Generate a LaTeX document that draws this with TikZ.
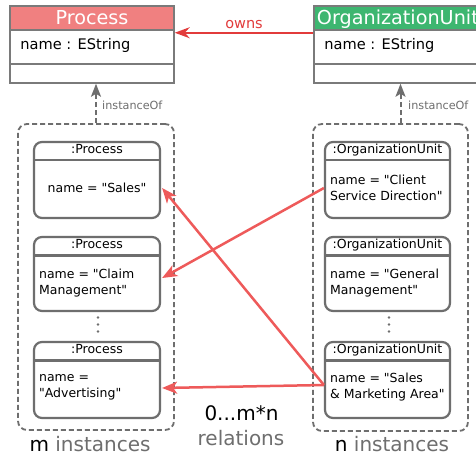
\documentclass[tikz,border=0pt]{standalone}
\usepackage{fontspec}
\setmainfont{DejaVu Sans}[Ligatures=TeXOff]
\usetikzlibrary{arrows.meta,calc}
\definecolor{boxgray}{HTML}{7A7A7A}
\definecolor{instgray}{HTML}{6E6E6E}
\definecolor{txtgray}{HTML}{6E6E6E}
\definecolor{procred}{HTML}{F08080}
\definecolor{ougreen}{HTML}{3DB670}
\definecolor{ownsred}{HTML}{E23B3B}
\definecolor{relred}{HTML}{EE5A5A}
\tikzset{
  classbox/.style={draw=boxgray, line width=1.5pt, minimum height=77pt, inner sep=0pt},
  classhead/.style={draw=boxgray, line width=1.5pt, minimum height=24pt, inner sep=0pt},
  headtxt/.style={text=white, font=\fontsize{19.2}{22}\selectfont, inner sep=0pt, anchor=base},
  attrtxt/.style={font=\fontsize{14.6}{17}\selectfont, inner sep=0pt, anchor=base west},
  container/.style={draw=instgray, line width=1.8pt, dash pattern=on 5pt off 3pt, rounded corners=9pt, minimum width=156pt, minimum height=306pt, inner sep=0pt},
  instbox/.style={draw=instgray, line width=2.2pt, rounded corners=8pt, minimum width=126pt, minimum height=76pt, inner sep=0pt},
  instline/.style={draw=instgray, line width=2.2pt},
  insthead/.style={font=\fontsize{12.5}{15}\selectfont, inner sep=0pt, anchor=base},
  bodytxt/.style={font=\fontsize{12.5}{16}\selectfont, inner sep=0pt, align=left, anchor=west},
  instof/.style={draw=instgray, line width=2pt, dash pattern=on 5pt off 3pt, -{Stealth[length=13pt,width=10pt,inset=3pt]}},
  instoftxt/.style={text=txtgray, font=\fontsize{11.2}{13}\selectfont, inner sep=0pt, anchor=base west},
  owns/.style={draw=ownsred, line width=2.2pt, -{Stealth[length=15pt,width=11pt,inset=5pt]}},
  rel/.style={draw=relred, line width=2.5pt, -{Stealth[length=15pt,width=12pt,inset=4pt]}},
  bigtxt/.style={font=\fontsize{20}{24}\selectfont, inner sep=0pt, anchor=base},
  dotmark/.style={fill=instgray}
}
\begin{document}
\begin{tikzpicture}[x=1pt,y=-1pt]
\clip (0,0) rectangle (476,457);
\fill[white] (0,0) rectangle (476,457);

% class Process
\node[classbox, minimum width=164pt] (proc) at (92,44.5) {};
\node[classhead, fill=procred, minimum width=164pt, anchor=north] (proch) at (proc.north) {};
\node[headtxt] (proct) at ($(proc.north)+(0,19)$) {Process};
\node[attrtxt] (proca) at ($(proc.north west)+(11,44)$) {name : EString};
\draw[boxgray, line width=1.8pt] ($(proc.west |- 0,64)$) -- ($(proc.east |- 0,64)$);

% class OrganizationUnit
\node[classbox, minimum width=173pt] (ou) at (400.5,44.5) {};
\node[classhead, fill=ougreen, minimum width=173pt, anchor=north] (ouh) at (ou.north) {};
\node[headtxt, anchor=base west] (out) at ($(ou.north west)+(3.5,19)$) {OrganizationUnit};
\node[attrtxt] (oua) at ($(ou.north west)+(11,44)$) {name : EString};
\draw[boxgray, line width=1.8pt] ($(ou.west |- 0,64)$) -- ($(ou.east |- 0,64)$);

% owns
\draw[owns] ($(ouh.south west)+(0,2)$) -- node[above=3pt, text=ownsred, font=\fontsize{14.5}{17}\selectfont, inner sep=0pt] (ownst) {owns} ($(proch.south east)+(0,2)$);

% containers
\node[container] (mset) at (96,277) {};
\node[container, minimum width=155pt, minimum height=307pt] (nset) at (390.5,277.5) {};

% instanceOf arrows
\draw[instof] (mset.north) -- (mset.north |- proc.south);
\node[instoftxt] (it1) at (102,110) {instanceOf};
\draw[instof] (nset.north -| ou.south) -- (ou.south);
\node[instoftxt] (it2) at (408,110) {instanceOf};

% instances
\node[instbox] (p1) at (97,180) {};
\node[instbox, minimum height=74pt] (p2) at (97,274) {};
\node[instbox] (p3) at (97,380) {};
\node[instbox, minimum width=125pt] (o1) at (387.5,180) {};
\node[instbox, minimum width=125pt, minimum height=74pt] (o2) at (387.5,274) {};
\node[instbox, minimum width=125pt] (o3) at (387.5,380) {};

\foreach \b in {p1,p2,p3,o1,o2,o3}{
  \draw[instline] ($(\b.north west)+(0,19.5)$) -- ($(\b.north east)+(0,19.5)$);
}
\foreach \b in {p1,p2,p3}{
  \node[insthead] at ($(\b.north)+(0,12.8)$) {:Process};
}
\foreach \b in {o1,o2,o3}{
  \node[insthead] at ($(\b.north)+(0,12.8)$) {:OrganizationUnit};
}

\node[bodytxt, anchor=center] (p1t) at ($(p1.center)+(0,8)$) {name = "Sales"};
\node[bodytxt] (p2t) at ($(p2.west)+(6,9)$) {name = "Claim\\Management"};
\node[bodytxt] (p3t) at ($(p3.west)+(6,7)$) {name =\\"Advertising"};
\node[bodytxt] (o1t) at ($(o1.west)+(6,8)$) {name = "Client\\Service Direction"};
\node[bodytxt] (o2t) at ($(o2.west)+(6,9)$) {name = "General\\Management"};
\node[bodytxt] (o3t) at ($(o3.west)+(6,7.5)$) {name = "Sales\\\& Marketing Area"};

% dots
\foreach \y in {317.5,324.5,331.5}{
  \fill[dotmark] (98,\y) circle (1.4pt);
  \fill[dotmark] (389,\y) circle (1.4pt);
}

% relations
\draw[rel] ($(o1.west)+(0,8)$) -- ($(p2.east)+(1,4)$);
\draw[rel] ($(o3.west)+(0,5)$) -- ($(p1.east)+(1,8)$);
\draw[rel] ($(o3.west)+(0,5)$) -- ($(p3.east)+(1,8)$);

% labels
\node[bigtxt] (ml) at (90,451) {m \textcolor{txtgray}{instances}};
\node[bigtxt] (nl) at (392,451) {n \textcolor{txtgray}{instances}};
\node[bigtxt] (rl1) at (241.5,420) {0...m*n};
\node[bigtxt, text=txtgray] (rl2) at (241,445) {relations};
\end{tikzpicture}
\end{document}
